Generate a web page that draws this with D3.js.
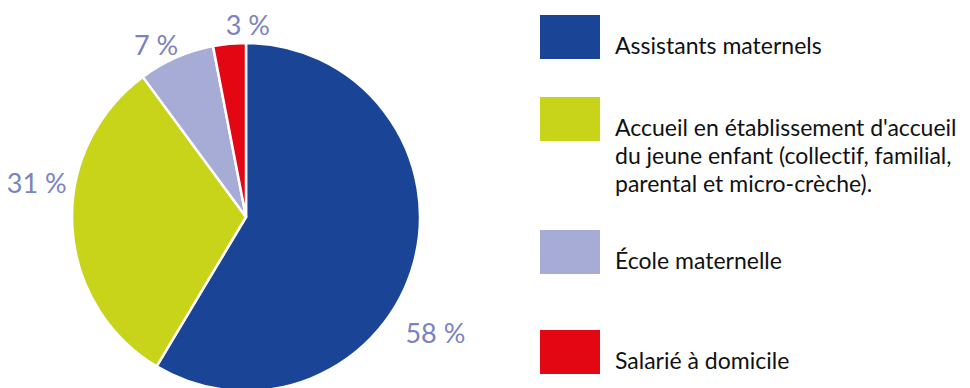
<!DOCTYPE html>
<html>
<head>
<meta charset="utf-8">
<script src="https://cdn.jsdelivr.net/npm/d3@7"></script>
<style>
  body { margin: 0; background: #fff; }
  svg { display: block; font-family: Lato, "Open Sans", sans-serif; font-variant-ligatures: none; }
</style>
</head>
<body>
<div id="chart"></div>
<script>
var categories = [
    "Assistants maternels",
    "Accueil en établissement d'accueil|du jeune enfant (collectif, familial,|parental et micro-crèche).",
    "École maternelle",
    "Salarié à domicile"
];
var values = [58, 31, 7, 3];
var valueLabels = ["58 %", "31 %", "7 %", "3 %"];
var colors = ["#1a4496", "#c8d41a", "#a7acd6", "#e30613"];

var width = 970, height = 388;
var cx = 246, cy = 217, radius = 174;

// label placement: nudge from slice mid angle (degrees) and distance from centre
var labelNudge = [16, 12, -4, 6];
var labelDist = [222, 212, 194, 192];

var svg = d3.select('#chart').append('svg')
    .attr('width', width).attr('height', height);

var g = svg.append('g')
    .attr('transform', 'translate(' + cx + ',' + cy + ')');

var pie = d3.pie().sort(null).value(function (d) { return d; });
var arc = d3.arc().innerRadius(0).outerRadius(radius);
var arcs = pie(values);

g.selectAll('path.slice')
    .data(arcs)
    .enter()
    .append('path')
    .attr('class', 'slice')
    .attr('d', arc)
    .style('fill', function (d, i) { return colors[i]; })
    .style('stroke', '#fff')
    .style('stroke-width', 2.5)
    .style('stroke-linejoin', 'round');

function labelAngle(d, i) {
    return (d.startAngle + d.endAngle) / 2 + labelNudge[i] * Math.PI / 180;
}

g.selectAll('text.pct')
    .data(arcs)
    .enter()
    .append('text')
    .attr('class', 'pct')
    .attr('x', function (d, i) { return Math.sin(labelAngle(d, i)) * labelDist[i]; })
    .attr('y', function (d, i) { return -Math.cos(labelAngle(d, i)) * labelDist[i]; })
    .attr('dy', '0.36em')
    .style('text-anchor', 'middle')
    .style('font-size', '27px')
    .style('fill', '#7a82c1')
    .text(function (d, i) { return valueLabels[i]; });

// legend
var legendTops = [15, 97, 230, 330];

var legend = svg.append('g').attr('class', 'legend')
    .attr('transform', 'translate(540,0)');

var item = legend.selectAll('g.item')
    .data(categories)
    .enter()
    .append('g')
    .attr('class', 'item')
    .attr('transform', function (d, i) { return 'translate(0,' + legendTops[i] + ')'; });

item.append('rect')
    .attr('width', 60)
    .attr('height', 44)
    .style('fill', function (d, i) { return colors[i]; });

item.append('text')
    .attr('x', 75)
    .attr('y', 39)
    .style('font-size', '23px')
    .style('fill', '#111')
    .selectAll('tspan')
    .data(function (d) { return d.split('|'); })
    .enter()
    .append('tspan')
    .attr('x', 75)
    .attr('dy', function (d, i) { return i === 0 ? 0 : 28; })
    .text(function (d) { return d; });
</script>
</body>
</html>
